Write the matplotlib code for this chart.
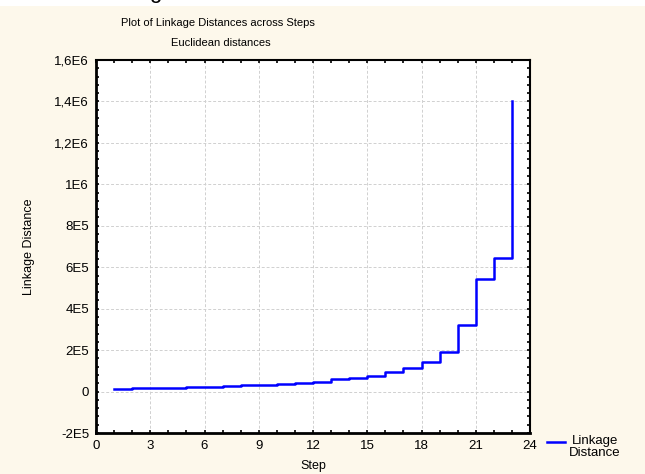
#!/usr/bin/env python3
import matplotlib
matplotlib.use("Agg")
import matplotlib.pyplot as plt
from matplotlib.ticker import FixedLocator, MultipleLocator, AutoMinorLocator, FuncFormatter
from matplotlib.patches import Rectangle
from matplotlib.lines import Line2D

# ---------------- Data ----------------
steps = list(range(1, 24))
linkage = [10e3, 15e3, 17e3, 18e3, 20e3, 22e3, 26e3, 30e3, 33e3, 37e3, 41e3, 44e3,
           59e3, 64e3, 73e3, 94e3, 115e3, 143e3, 193e3, 322e3, 543e3, 643e3, 1.4e6]
x_ticks = [0, 3, 6, 9, 12, 15, 18, 21, 24]
y_ticks = [-2e5, 0, 2e5, 4e5, 6e5, 8e5, 1e6, 1.2e6, 1.4e6, 1.6e6]
y_labels = ["-2E5", "0", "2E5", "4E5", "6E5", "8E5", "1E6", "1,2E6", "1,4E6", "1,6E6"]

plt.rcParams["font.family"] = ["Liberation Sans", "DejaVu Sans"]

bg = "#fdf8eb"
fig = plt.figure(figsize=(6.45, 4.74), dpi=100, facecolor=bg)

# white strip at the top with the clipped heading
fig.patches.append(Rectangle((0, 1 - 6 / 474), 1, 6 / 474, transform=fig.transFigure,
                             facecolor="white", edgecolor="none", zorder=0))
fig.text(155 / 645, 1 + 2 / 474, "g", fontsize=16, ha="center", va="baseline")

ax = fig.add_axes([96 / 645, 1 - 433 / 474, 434 / 645, 373 / 474])
ax.set_facecolor("white")

ax.step(steps, linkage, where="post", color="#0000ff", lw=1.8)

ax.set_xlim(0, 24)
ax.set_ylim(-2e5, 1.6e6)
ax.xaxis.set_major_locator(FixedLocator(x_ticks))
ax.xaxis.set_minor_locator(MultipleLocator(1))
ax.yaxis.set_major_locator(FixedLocator(y_ticks))
ax.yaxis.set_minor_locator(AutoMinorLocator(5))
ax.yaxis.set_major_formatter(FuncFormatter(lambda v, p: y_labels[y_ticks.index(v)] if v in y_ticks else ""))

ax.grid(True, which="major", color="#d0d0d0", ls=(0, (3, 2)), lw=0.7)
ax.tick_params(which="both", direction="in", top=True, right=True, labelsize=9.5,
               length=2.5, width=1.2, color="black", pad=5)
ax.tick_params(which="minor", length=2)
for s in ax.spines.values():
    s.set_linewidth(1.5)
    s.set_color("black")
ax.spines["left"].set_linewidth(2)
ax.spines["bottom"].set_linewidth(2)

ax.set_xlabel("Step", fontsize=9, labelpad=6)
ax.set_ylabel("Linkage Distance", fontsize=9, labelpad=14)

fig.text(218 / 645, 1 - 23 / 474, "Plot of Linkage Distances across Steps",
         fontsize=8, ha="center", va="center")
fig.text(221 / 645, 1 - 43 / 474, "Euclidean distances",
         fontsize=8, ha="center", va="center")

# legend outside bottom-right
fig.lines.append(Line2D([547 / 645, 565 / 645], [1 - 441.5 / 474] * 2,
                        transform=fig.transFigure, color="#0000ff", lw=1.8))
fig.text(595 / 645, 1 - 435 / 474, "Linkage\nDistance", fontsize=9.5,
         ha="center", va="top", linespacing=0.95,
         transform=fig.transFigure)

fig.savefig("out.png", dpi=100, facecolor=bg)
